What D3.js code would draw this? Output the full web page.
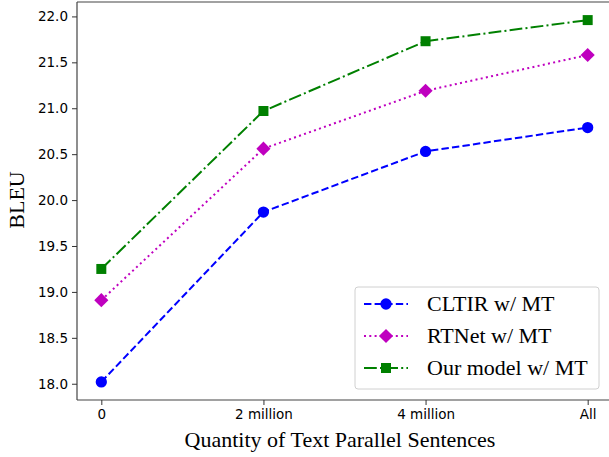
<!DOCTYPE html>
<html>
<head>
<meta charset="utf-8">
<script src="https://cdn.jsdelivr.net/npm/d3@7"></script>
<style>
  body { margin: 0; background: #fff; }
  svg { display: block; }
</style>
</head>
<body>
<div id="chart"></div>
<script>
// Data
const categories = ["0", "2 million", "4 million", "All"];
const cltir = [18.02, 19.87, 20.53, 20.79];
const rtnet = [18.91, 20.56, 21.19, 21.58];
const ours = [19.25, 20.97, 21.73, 21.96];
const yTicks = [18.0, 18.5, 19.0, 19.5, 20.0, 20.5, 21.0, 21.5, 22.0];

const seriesNames = ["CLTIR w/ MT", "RTNet w/ MT", "Our model w/ MT"];

const width = 609, height = 457;
const margin = { left: 77, top: 2, right: -3, bottom: 57 };

const svg = d3.select("#chart").append("svg")
    .attr("width", width).attr("height", height);

const x = d3.scaleLinear().domain([-0.15, 3.15])
    .range([margin.left, width - margin.right]);
const y = d3.scaleLinear().domain([17.823, 22.157])
    .range([height - margin.bottom, margin.top]);

// Series styles (diamond = square turned 45deg, like matplotlib 'D')
const styles = [
    { data: cltir, color: "#0000ff", dash: "7.4,3.2", marker: d3.symbolCircle, size: 100, rot: 0 },
    { data: rtnet, color: "#bf00bf", dash: "2,3.3", marker: d3.symbolSquare, size: 100, rot: 45 },
    { data: ours, color: "#008000", dash: "12.8,3.2,2,3.2", marker: d3.symbolSquare, size: 100, rot: 0 },
];

// Axes
const tickFont = "DejaVu Sans, sans-serif";
const yAxis = svg.append("g")
    .attr("transform", `translate(${margin.left},0)`)
    .call(d3.axisLeft(y).tickValues(yTicks).tickFormat(d3.format(".1f")).tickSize(5).tickPadding(4));
const xAxis = svg.append("g")
    .attr("transform", `translate(0,${height - margin.bottom})`)
    .call(d3.axisBottom(x).tickValues([0, 1, 2, 3]).tickFormat(i => categories[i]).tickSize(5).tickPadding(4));

[yAxis, xAxis].forEach(g => {
    g.selectAll("text").attr("font-family", tickFont).attr("font-size", 13.5).attr("fill", "#000");
    g.selectAll("line").attr("stroke", "#333").attr("stroke-width", 1);
    g.select(".domain").attr("stroke", "#444").attr("stroke-width", 1.2);
});
// straight spines without outer ticks
yAxis.select(".domain").attr("d", `M0,${margin.top}V${height - margin.bottom}`);
xAxis.select(".domain").attr("d", `M${margin.left},0H${width}`);
// top spine
svg.append("line")
    .attr("x1", margin.left).attr("x2", width)
    .attr("y1", margin.top).attr("y2", margin.top)
    .attr("stroke", "#444").attr("stroke-width", 1.2);

// Lines and markers
const line = d3.line().x((d, i) => x(i)).y(d => y(d));
styles.forEach(s => {
    svg.append("path").datum(s.data)
        .attr("fill", "none").attr("stroke", s.color).attr("stroke-width", 2)
        .attr("stroke-dasharray", s.dash).attr("d", line);
    svg.selectAll(null).data(s.data).enter().append("path")
        .attr("transform", (d, i) => `translate(${x(i)},${y(d)}) rotate(${s.rot})`)
        .attr("d", d3.symbol().type(s.marker).size(s.size))
        .attr("fill", s.color);
});

// Axis labels
const serif = "Liberation Serif, Times New Roman, serif";
svg.append("text")
    .attr("transform", "translate(24,200) rotate(-90)")
    .attr("text-anchor", "middle")
    .attr("font-family", serif).attr("font-size", 22)
    .text("BLEU");
svg.append("text")
    .attr("x", 340).attr("y", 447)
    .attr("text-anchor", "middle")
    .attr("font-family", serif).attr("font-size", 22)
    .text("Quantity of Text Parallel Sentences");

// Legend
const legend = svg.append("g").attr("transform", "translate(355,287)");
legend.append("rect")
    .attr("width", 244).attr("height", 102).attr("rx", 3)
    .attr("fill", "#fff").attr("fill-opacity", 0.8)
    .attr("stroke", "#d0d0d0").attr("stroke-width", 1);
styles.forEach((s, i) => {
    const row = legend.append("g").attr("transform", `translate(0,${17 + i * 32})`);
    row.append("line")
        .attr("x1", 9).attr("x2", 53)
        .attr("stroke", s.color).attr("stroke-width", 2)
        .attr("stroke-dasharray", s.dash);
    row.append("path")
        .attr("transform", `translate(31,0) rotate(${s.rot})`)
        .attr("d", d3.symbol().type(s.marker).size(s.size))
        .attr("fill", s.color);
    row.append("text")
        .attr("x", 72).attr("y", 7)
        .attr("font-family", serif).attr("font-size", 22)
        .text(seriesNames[i]);
});
</script>
</body>
</html>
